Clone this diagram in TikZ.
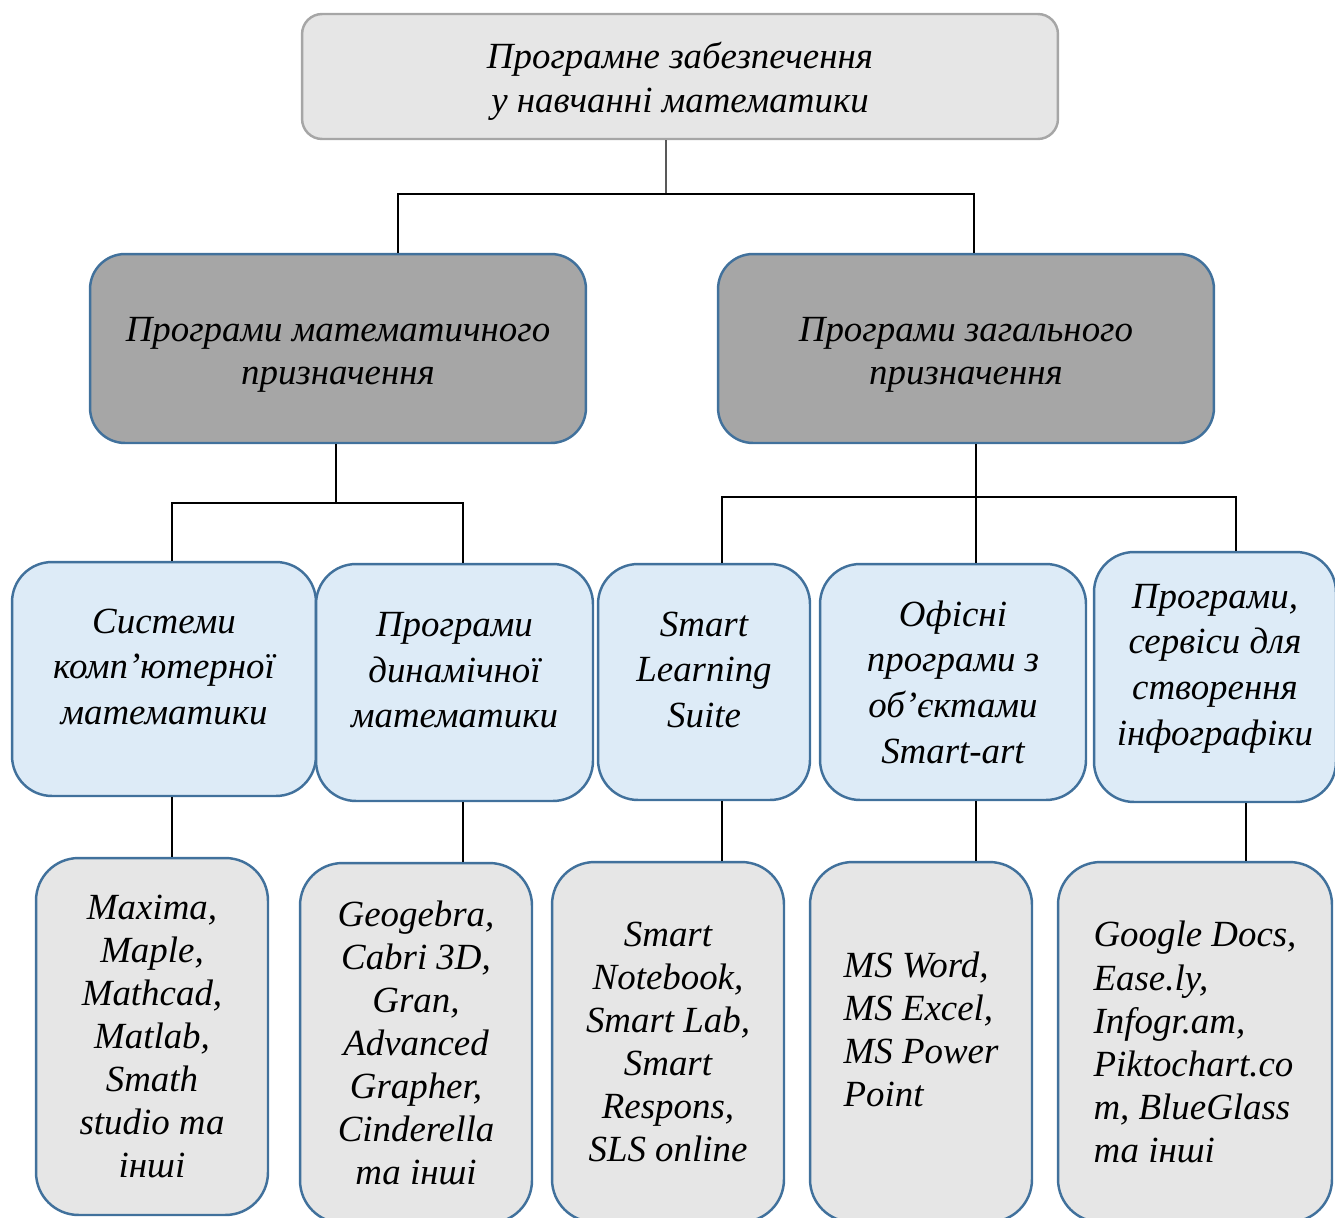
\documentclass[tikz,border=0pt]{standalone}
\usepackage{fontspec}
\setmainfont{Liberation Serif}
\usepackage{xcolor}
\usetikzlibrary{positioning, calc}

\definecolor{boxline}{HTML}{41719C}
\definecolor{lightgray}{HTML}{E6E6E6}
\definecolor{midgray}{HTML}{A6A6A6}
\definecolor{lightblue}{HTML}{DDEBF7}

\begin{document}
\begin{tikzpicture}[
  x=0.02cm, y=-0.02cm,
  every node/.style={align=center, inner sep=2pt, font=\itshape\fontsize{21}{24.5}\selectfont},
  rootbox/.style={draw=midgray, line width=1.4pt, fill=lightgray, rounded corners=0.4cm, text height=1.58cm},
  groupbox/.style={draw=boxline, line width=1.4pt, fill=midgray, rounded corners=0.7cm, minimum width=9.92cm, minimum height=3.78cm, text height=1.58cm},
  kindbox/.style={draw=boxline, line width=1.4pt, fill=lightblue, rounded corners=0.8cm, font=\itshape\fontsize{21}{26}\selectfont},
  toolbox/.style={draw=boxline, line width=1.4pt, fill=lightgray, rounded corners=0.85cm, minimum height=7.2cm},
  lifted/.style={text depth=0.5cm},
  link/.style={draw, line width=0.8pt}
]
  \useasboundingbox (0,0) rectangle (1335,1217);

  % Top level
  \node[rootbox, minimum width=15.12cm, minimum height=2.5cm] (root) at (680,76.5)
    {Програмне забезпечення\\ у навчанні математики};

  % Groups
  \node[groupbox] (mathp) at (338,348.5) {Програми математичного\\призначення};
  \node[groupbox] (genp) at (966,348.5) {Програми загального\\призначення};

  % Kinds of programs
  \node[kindbox, lifted, minimum width=6.08cm, minimum height=4.68cm] (cas) at (164,679)
    {Системи\\комп’ютерної\\математики};
  \node[kindbox, lifted, minimum width=5.54cm, minimum height=4.74cm] (dyn) at (454.5,682.5)
    {Програми\\динамічної\\математики};
  \node[kindbox, lifted, minimum width=4.24cm, minimum height=4.72cm] (sls) at (704,682)
    {Smart\\Learning\\Suite};
  \node[kindbox, minimum width=5.32cm, minimum height=4.72cm] (office) at (953,682)
    {Офісні\\програми з\\об’єктами\\Smart-art};
  \node[kindbox, lifted, minimum width=4.84cm, minimum height=5cm] (infog) at (1215,677)
    {Програми,\\сервіси для\\створення\\інфографіки};

  % Tools
  \node[toolbox, minimum width=4.64cm, minimum height=7.14cm] (casx) at (152,1036.5)
    {Maxima,\\Maple,\\Mathcad,\\Matlab,\\Smath\\studio та\\інші};
  \node[toolbox, minimum width=4.64cm] (dynx) at (416,1043)
    {Geogebra,\\Cabri 3D,\\Gran,\\Advanced\\Grapher,\\Cinderella\\та інші};
  \node[toolbox, minimum width=4.64cm] (slsx) at (668,1042)
    {Smart\\Notebook,\\Smart Lab,\\Smart\\Respons,\\SLS online};
  \node[toolbox, lifted, align=left, minimum width=4.44cm] (officex) at (921,1042)
    {MS Word,\\MS Excel,\\MS Power\\Point};
  \node[toolbox, align=left, minimum width=5.48cm] (infogx) at (1195,1042)
    {Google Docs,\\Ease.ly,\\Infogr.am,\\Piktochart.co\\m, BlueGlass\\та інші};

  % Links from the top
  \coordinate (j0) at (666,194);
  \draw[link] ([xshift=-0.28cm]root.south) -- (j0);
  \draw[link] ([xshift=1.2cm]mathp.north) |- (j0) -| ([xshift=0.16cm]genp.north);

  % Links of the first group
  \coordinate (j1) at (336,503);
  \draw[link] (mathp.south -| j1) -- (j1);
  \draw[link] ([xshift=0.16cm]cas.north) |- (j1) -| ([xshift=0.17cm]dyn.north);

  % Links of the second group
  \coordinate (j2) at (976,497);
  \draw[link] (genp.south -| j2) -- (j2);
  \draw[link] ([xshift=0.36cm]sls.north) |- (j2) -| ([xshift=0.42cm]infog.north);
  \draw[link] (office.north -| j2) -- (j2);

  % Links to the tools
  \draw[link] ([xshift=0.16cm]cas.south) -- ([xshift=0.16cm]cas.south |- casx.north);
  \draw[link] ([xshift=0.17cm]dyn.south) -- ([xshift=0.17cm]dyn.south |- dynx.north);
  \draw[link] ([xshift=0.36cm]sls.south) -- ([xshift=0.36cm]sls.south |- slsx.north);
  \draw[link] ([xshift=0.46cm]office.south) -- ([xshift=0.46cm]office.south |- officex.north);
  \draw[link] ([xshift=0.62cm]infog.south) -- ([xshift=0.62cm]infog.south |- infogx.north);
\end{tikzpicture}
\end{document}
